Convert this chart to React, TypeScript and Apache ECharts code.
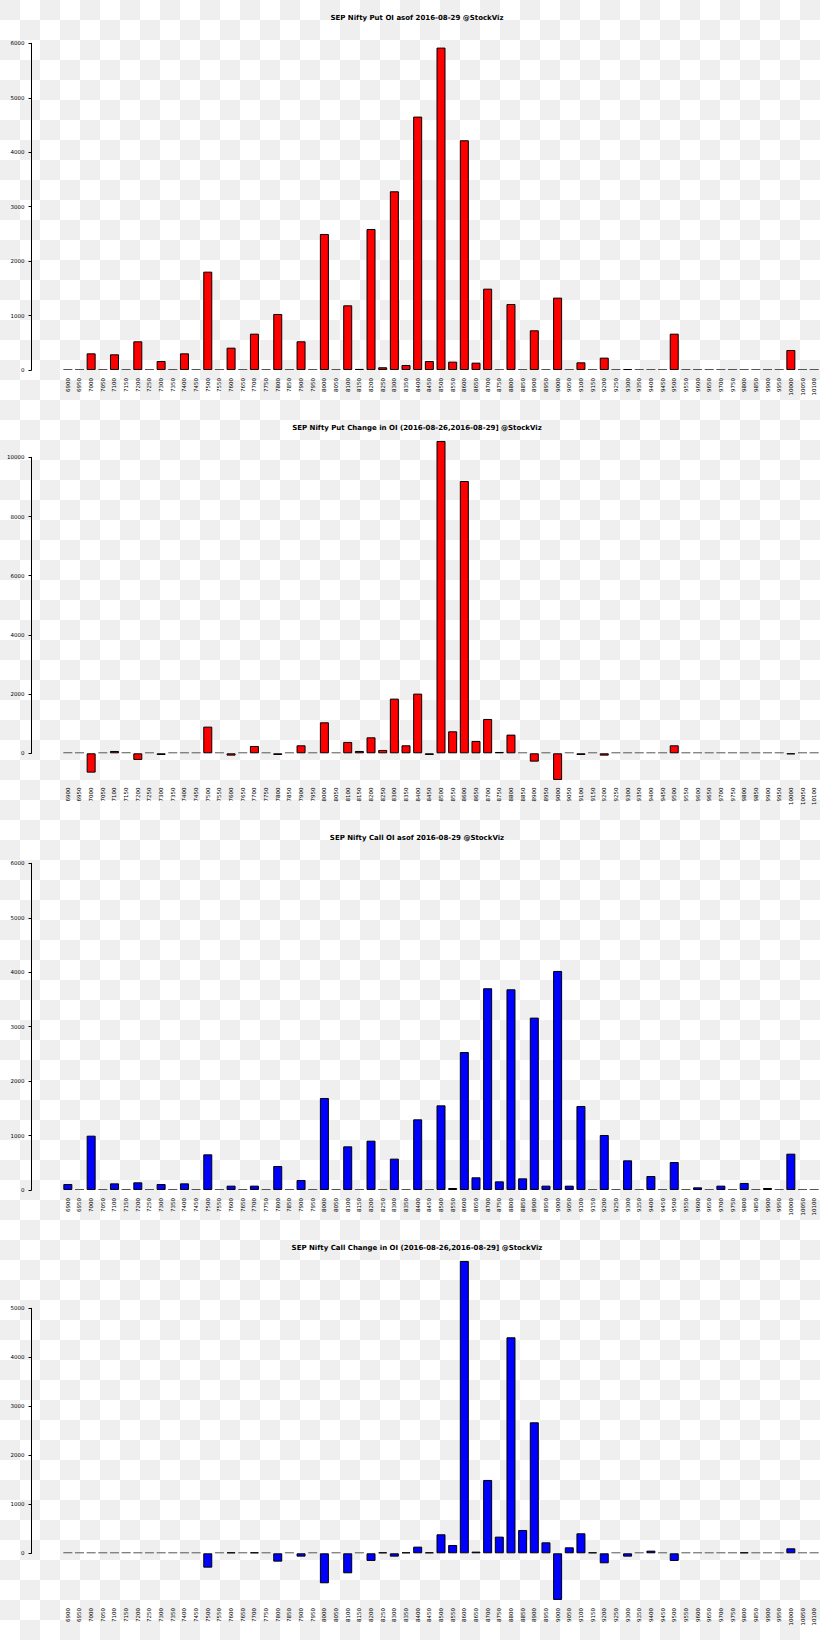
import React, { useEffect, useRef } from "react";
import * as echarts from "echarts";

const strikes: string[] = [
  "6900", "6950", "7000", "7050", "7100", "7150", "7200", "7250", "7300", "7350",
  "7400", "7450", "7500", "7550", "7600", "7650", "7700", "7750", "7800", "7850",
  "7900", "7950", "8000", "8050", "8100", "8150", "8200", "8250", "8300", "8350",
  "8400", "8450", "8500", "8550", "8600", "8650", "8700", "8750", "8800", "8850",
  "8900", "8950", "9000", "9050", "9100", "9150", "9200", "9250", "9300", "9350",
  "9400", "9450", "9500", "9550", "9600", "9650", "9700", "9750", "9800", "9850",
  "9900", "9950", "10000", "10050", "10100",
];

const putOI: number[] = [
  0, 0, 306, 0, 288, 0, 527, 0, 165, 0,
  306, 0, 1806, 0, 410, 0, 667, 0, 1029, 0,
  527, 0, 2498, 0, 1188, 20, 2590, 50, 3282, 92,
  4654, 165, 5921, 153, 4219, 135, 1494, 0, 1212, 0,
  729, 0, 1329, 0, 141, 0, 227, 0, 18, 0,
  0, 0, 667, 0, 0, 0, 0, 0, 0, 0,
  0, 0, 367, 0, 0,
];

const putChange: number[] = [
  0, 0, -653, 0, 79, 0, -225, 0, -56, 0,
  0, 0, 901, 0, -79, 0, 248, 0, -56, 0,
  270, 0, 1047, 0, 383, 79, 540, 113, 1847, 270,
  2016, -56, 10552, 743, 9200, 417, 1160, 45, 631, 0,
  -282, 0, -901, 0, -56, 0, -79, 0, 0, 0,
  0, 0, 270, 0, 0, 0, 0, 0, 0, 0,
  0, 0, -20, 0, 0,
];

const callOI: number[] = [
  110, 0, 998, 0, 122, 0, 141, 0, 110, 0,
  122, 0, 655, 0, 80, 0, 80, 0, 441, 0,
  184, 0, 1690, 0, 802, 0, 906, 0, 576, 0,
  1298, 0, 1555, 37, 2535, 233, 3705, 159, 3686, 214,
  3166, 80, 4023, 80, 1543, 0, 1010, 0, 545, 0,
  257, 0, 514, 0, 49, 0, 80, 0, 129, 0,
  37, 0, 667, 0, 0,
];

const callChange: number[] = [
  0, 0, 0, 0, 0, 0, 0, 0, 0, 0,
  0, 0, -293, 0, 20, 0, 20, 0, -170, 0,
  -68, 0, -612, 0, -408, 0, -156, 20, -68, 20,
  136, 20, 388, 170, 5966, 34, 1497, 340, 4408, 476,
  2673, 224, -952, 122, 408, 20, -204, 0, -68, 0,
  54, 0, -156, 0, 0, 0, 0, 0, 20, 0,
  0, 0, 102, 0, 0,
];

const titles: string[] = [
  "SEP Nifty Put OI asof 2016-08-29 @StockViz",
  "SEP Nifty Put Change in OI (2016-08-26,2016-08-29] @StockViz",
  "SEP Nifty Call OI asof 2016-08-29 @StockViz",
  "SEP Nifty Call Change in OI (2016-08-26,2016-08-29] @StockViz",
];

const tickMaxes: number[] = [6000, 10000, 6000, 5000];
const tickSteps: number[] = [1000, 2000, 1000, 1000];
const rangeMins: number[] = [0, -950, 0, -1000];
const rangeMaxes: number[] = [6000, 10700, 6000, 6100];

const PUT_COLOR = "#ff0000";
const CALL_COLOR = "#0000ff";
const FONT = "DejaVu Sans";

// layout (pixels): zero line, top tick, label top, title top
const layout = [
  { zero: 370, tickTop: 43.3, labelTop: 378, titleY: 14, color: PUT_COLOR },
  { zero: 753.3, tickTop: 457.3, labelTop: 787.5, titleY: 424, color: PUT_COLOR },
  { zero: 1190, tickTop: 863.3, labelTop: 1198, titleY: 834, color: CALL_COLOR },
  { zero: 1553.3, tickTop: 1308.3, labelTop: 1608, titleY: 1244, color: CALL_COLOR },
];

const seriesData: number[][] = [putOI, putChange, callOI, callChange];

export default function App() {
  const ref = useRef<HTMLDivElement>(null);

  useEffect(() => {
    if (!ref.current) return;
    const chart = echarts.init(ref.current, undefined, { renderer: "svg" });

    const grids: any[] = [];
    const xAxes: any[] = [];
    const yAxes: any[] = [];
    const series: any[] = [];
    const titleOpts: any[] = [];

    layout.forEach((L, k) => {
      const scale = (L.zero - L.tickTop) / tickMaxes[k];
      const top = L.zero - rangeMaxes[k] * scale;
      const bottomPx = L.zero - rangeMins[k] * scale;
      grids.push({
        left: 62,
        width: 758,
        top,
        height: bottomPx - top,
        outerBoundsMode: "none",
        containLabel: false,
      });
      grids.push({
        left: 31.5,
        width: 1,
        top: L.tickTop,
        height: L.zero - L.tickTop,
        outerBoundsMode: "none",
        containLabel: false,
      });
      xAxes.push({
        type: "category",
        gridIndex: 2 * k,
        data: strikes,
        axisLine: { show: false, onZero: false },
        axisTick: { show: false },
        axisLabel: {
          interval: 0,
          rotate: 90,
          fontSize: 5.5,
          fontFamily: FONT,
          color: "#000",
          margin: L.labelTop - bottomPx,
        },
        splitLine: { show: false },
      });
      xAxes.push({ type: "value", gridIndex: 2 * k + 1, show: false });
      yAxes.push({
        type: "value",
        gridIndex: 2 * k,
        min: rangeMins[k],
        max: rangeMaxes[k],
        show: false,
        splitLine: { show: false },
      });
      yAxes.push({
        type: "value",
        gridIndex: 2 * k + 1,
        min: 0,
        max: tickMaxes[k],
        interval: tickSteps[k],
        axisLine: { show: true, lineStyle: { color: "#000", width: 1 } },
        axisTick: { show: true, length: 3, lineStyle: { color: "#000", width: 1 } },
        axisLabel: {
          fontSize: 5.5,
          fontFamily: FONT,
          color: "#000",
          margin: 7,
          formatter: (v: number) => String(v),
        },
        splitLine: { show: false },
      });
      series.push({
        type: "bar",
        xAxisIndex: 2 * k,
        yAxisIndex: 2 * k,
        barWidth: 9,
        barMinHeight: 1,
        itemStyle: { color: L.color, borderColor: "#000", borderWidth: 1 },
        data: seriesData[k].map((v) =>
          v === 0 ? { value: 0, itemStyle: { color: "#555", borderWidth: 0 } } : v
        ),
      });
      titleOpts.push({
        text: titles[k],
        left: 417,
        top: L.titleY,
        textAlign: "center",
        padding: 0,
        textStyle: { fontSize: 7, fontWeight: "bold", fontFamily: FONT, color: "#000" },
      });
    });

    chart.setOption({
      animation: false,
      backgroundColor: "transparent",
      title: titleOpts,
      grid: grids,
      xAxis: xAxes,
      yAxis: yAxes,
      series,
    });

    return () => chart.dispose();
  }, []);

  return (
    <div
      style={{
        position: "absolute",
        left: 0,
        top: 0,
        width: 820,
        height: 1640,
        background: "repeating-conic-gradient(#ffffff 0 25%, #efefef 0 50%) 0 0 / 40px 40px",
      }}
    >
      <div ref={ref} style={{ width: 820, height: 1640 }} />
    </div>
  );
}
